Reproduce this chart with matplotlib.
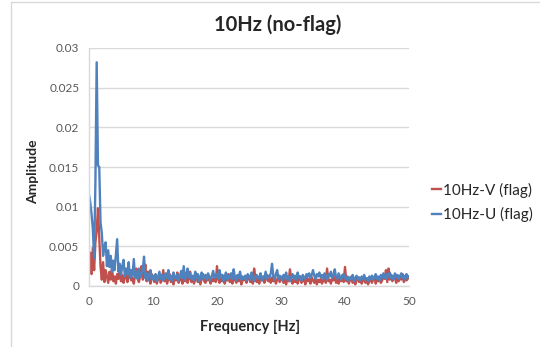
import numpy as np
import matplotlib
matplotlib.use("Agg")
import matplotlib.pyplot as plt
from matplotlib.lines import Line2D

plt.rcParams['font.family'] = ['Lato', 'DejaVu Sans']

# spectrum amplitudes, in units of 1e-4, one bin every 0.2 Hz from 0 to 50 Hz
freq_step = 0.2

u_amp_e4 = [
    115, 105, 90, 72, 35, 130, 282, 152, 150, 80,
    67, 38, 50, 55, 25, 45, 24, 38, 18, 32,
    20, 40, 59, 18, 28, 14, 25, 33, 12, 22,
    15, 30, 10, 20, 13, 34, 11, 18, 9, 22,
    11, 15, 20, 37, 10, 16, 7, 14, 20, 8,
    13,
    8, 15, 6, 12, 18, 9, 14, 7, 11, 16,
    10, 20, 8, 13, 6, 17, 11, 9, 15, 7,
    12, 19, 10, 25, 8, 14, 22, 11, 16, 9,
    13, 7, 18, 10, 15, 6, 12, 17, 9, 11,
    14, 8, 16, 11, 7, 13, 19, 10, 12, 15,
    9, 20, 11, 14, 6, 12, 17, 8, 13, 10,
    16, 9, 21, 11, 7, 14, 10, 18, 8, 12,
    9, 13, 7, 15, 11, 8, 17, 10, 6, 12,
    14, 9, 11, 16, 7, 12, 10, 18, 9, 13,
    11, 16, 28, 12, 8, 15, 20, 9, 13, 11,
    7, 14, 10, 17, 8, 12, 6, 11, 15, 9,
    13, 8, 17, 10, 12, 7, 14, 11, 9, 15,
    12, 16, 10, 14, 20, 13, 9, 15, 12, 17,
    11, 14, 9, 16, 13, 8, 15, 12, 18, 10,
    14, 21, 11, 9, 16, 12, 8, 13, 15, 10,
    8, 12, 7, 11, 9, 14, 6, 10, 13, 8,
    11, 7, 12, 9, 14, 8, 10, 6, 12, 9,
    13, 8, 11, 15, 9, 12, 7, 14, 10, 16,
    11, 9, 15, 12, 17, 10, 13, 8, 16, 11,
    14, 9, 12, 16, 10, 13, 8, 15, 11, 12,
]

v_amp_e4 = [
    30, 42, 15, 48, 20, 55, 70, 98, 60, 25,
    8, 30, 5, 20, 12, 4, 18, 8, 22, 6,
    12, 3, 15, 9, 20, 6, 14, 4, 11, 16,
    5, 12, 20, 7, 10, 3, 14, 22, 9, 5,
    13, 25, 8, 12, 27, 6, 18, 9, 3, 15,
    10,
    5, 12, 3, 9, 14, 4, 8, 20, 6, 11,
    3, 9, 15, 5, 10, 2, 12, 7, 17, 4,
    8, 13, 3, 10, 6, 14, 4, 9, 18, 5,
    11, 3, 8, 13, 5, 10, 2, 9, 15, 6,
    4, 10, 7, 12, 3, 9, 6, 14, 5, 25,
    8, 4, 11, 6, 13, 3, 9, 7, 15, 5,
    10, 3, 8, 12, 4, 9, 6, 14, 2, 10,
    7, 11, 4, 9, 13, 5, 8, 3, 22, 10,
    5, 9, 3, 12, 7, 10, 4, 8, 14, 6,
    9, 4, 11, 6, 10, 3, 8, 13, 5, 9,
    12, 4, 8, 2, 10, 6, 21, 7, 3, 9,
    5, 10, 3, 8, 12, 4, 7, 9, 2, 11,
    6, 9, 3, 11, 7, 4, 10, 2, 8, 5,
    9, 3, 7, 12, 4, 22, 6, 8, 3, 10,
    7, 12, 4, 9, 3, 11, 6, 14, 5, 24,
    6, 10, 3, 8, 12, 4, 9, 2, 7, 11,
    5, 9, 3, 7, 10, 4, 8, 2, 6, 10,
    4, 8, 12, 3, 9, 6, 11, 4, 7, 13,
    9, 20, 5, 22, 8, 14, 6, 10, 12, 4,
    10, 6, 13, 8, 15, 5, 11, 7, 9, 12,
]

series_labels = ['10Hz-V (flag)', '10Hz-U (flag)']
x_ticks = [0, 10, 20, 30, 40, 50]
y_ticks = [0, 0.005, 0.01, 0.015, 0.02, 0.025, 0.03]
y_ticklabels = ['0', '0.005', '0.01', '0.015', '0.02', '0.025', '0.03']

freq = np.arange(len(u_amp_e4)) * freq_step
u_amp = np.array(u_amp_e4) * 1e-4
v_amp = np.array(v_amp_e4) * 1e-4

red = '#c0504d'
blue = '#4f81bd'
grid_c = '#d9d9d9'
text_c = '#595959'

fig = plt.figure(figsize=(5.4, 3.47), dpi=100)
ax = fig.add_axes([89/540, 1-286/347, 320/540, 238/347])

ax.plot(freq, v_amp, color=red, lw=1.7, label=series_labels[0])
ax.plot(freq, u_amp, color=blue, lw=1.7, label=series_labels[1])

ax.set_xlim(0, 50)
ax.set_ylim(0, 0.03)
ax.set_xticks(x_ticks)
ax.set_yticks(y_ticks)
ax.set_yticklabels(y_ticklabels)
ax.tick_params(length=0, labelsize=8.5, labelcolor=text_c, pad=7)
ax.grid(axis='y', color=grid_c, lw=1)
ax.set_axisbelow(True)
for s in ['top', 'right']:
    ax.spines[s].set_visible(False)
for s in ['left', 'bottom']:
    ax.spines[s].set_color(grid_c)
    ax.spines[s].set_linewidth(1)

fig.text(278/540, 1-25/347, '10Hz (no-flag)', ha='center', va='center',
         fontsize=14.5, fontweight='bold', color='#262626')
fig.text(33/540, 1-172/347, 'Amplitude', rotation=90, ha='center', va='center',
         fontsize=10, fontweight='bold', color='#262626')
fig.text(250/540, 1-327/347, 'Frequency [Hz]', ha='center', va='center',
         fontsize=10.5, fontweight='bold', color='#262626')

fig.legend(loc='upper left', bbox_to_anchor=(424/540, 1-175/347), frameon=False,
           fontsize=11, handlelength=0.6, handletextpad=0.15, labelspacing=0.6,
           borderpad=0, labelcolor='#262626')

# chart area frame (left and top edges visible)
fig.add_artist(Line2D([11/540, 11/540, 1], [0, 1-2/347, 1-2/347],
                      transform=fig.transFigure, color=grid_c, lw=1))

fig.savefig('out.png', dpi=100)
